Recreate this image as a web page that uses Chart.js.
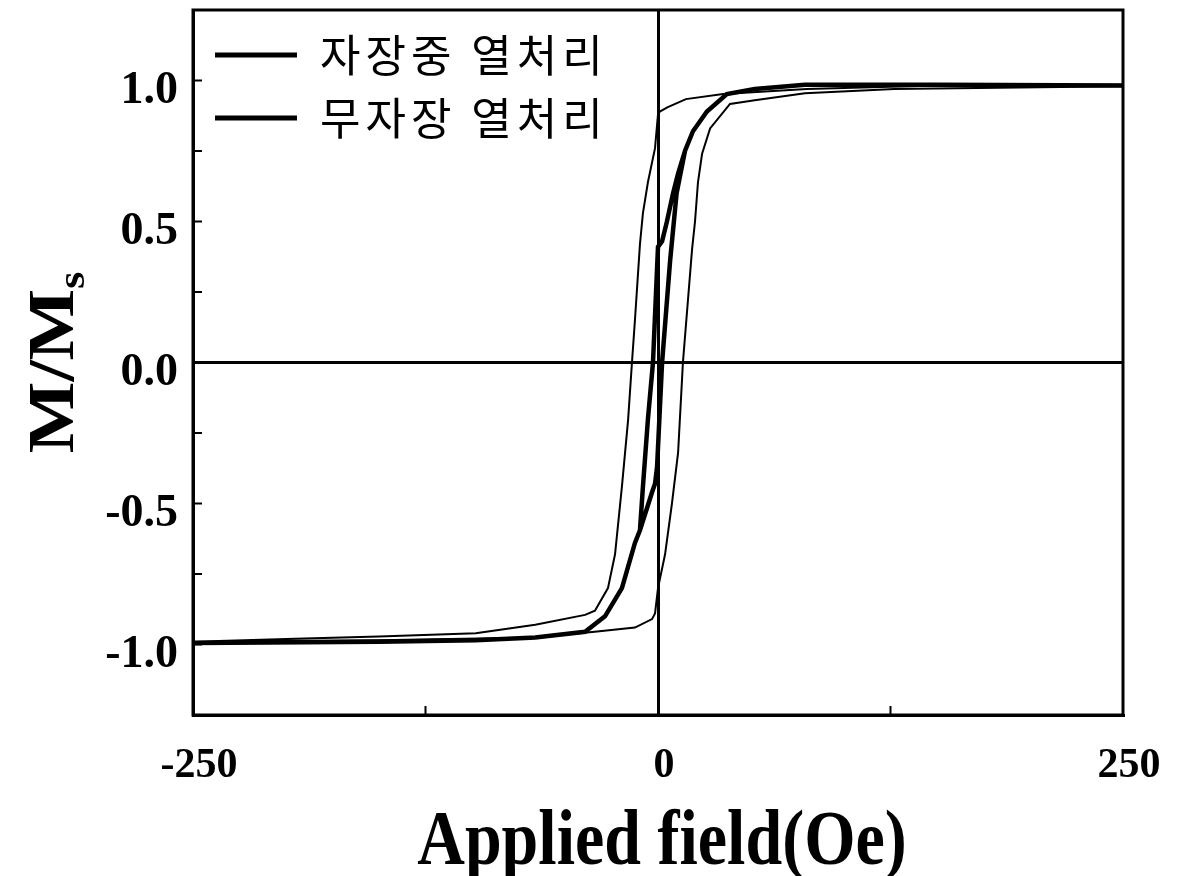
<!DOCTYPE html>
<html>
<head>
<meta charset="utf-8">
<script src="https://cdn.jsdelivr.net/npm/chart.js@4"></script>
<style>
html, body { margin: 0; padding: 0; background: #fff; }
#wrap { width: 1195px; height: 876px; }
</style>
</head>
<body>
<div id="wrap"><canvas id="chart"></canvas></div>
<script>
// legend labels
const seriesNames = ['자장중 열처리', '무자장 열처리'];

// axis ticks
const xTickLabels = [-250, 0, 250];
const yTickLabels = [-1.0, -0.5, 0.0, 0.5, 1.0];
const xMinorTicks = [-125, 0, 125];
const yMinorTicks = [-1, -0.75, -0.5, -0.25, 0, 0.25, 0.5, 0.75, 1];

// field annealed sample (thin, square loop) - descending branch
const fieldDescH = [250, 150, 80, 35, 15, 5, 1, 0, -1.6, -5.4, -8.1, -9.7, -12.4, -14, -16.1, -19.4, -23.1, -26.9, -33.9, -39.2, -66, -98, -150, -195, -250];
const fieldDescM = [0.985, 0.982, 0.97, 0.952, 0.934, 0.905, 0.89, 0.88, 0.76, 0.64, 0.53, 0.42, 0.15, 0, -0.205, -0.44, -0.68, -0.8, -0.88, -0.895, -0.93, -0.96, -0.972, -0.98, -0.99];
// field annealed sample - ascending branch
const fieldAscH = [-250, -150, -66, -34, -12.4, -3.2, -1.6, 0, 3.8, 7.5, 10.8, 13.4, 18.3, 19.9, 21.5, 23.7, 28, 38.7, 52, 79, 127, 250];
const fieldAscM = [-0.99, -0.985, -0.975, -0.955, -0.94, -0.91, -0.89, -0.8, -0.68, -0.5, -0.32, 0, 0.4, 0.5, 0.64, 0.74, 0.83, 0.917, 0.93, 0.955, 0.97, 0.98];

// no-field annealed sample (thick loop) - descending branch
const noFieldDescH = [250, 150, 79, 52, 37, 26.3, 18.8, 14.5, 10.8, 8.1, 4.8, 2.2, 0, -2.7, -5.4, -8.1, -9.7, -12.4, -19.4, -28.5, -39.2, -66, -98, -150, -250];
const noFieldDescM = [0.982, 0.985, 0.985, 0.97, 0.952, 0.89, 0.82, 0.75, 0.67, 0.6, 0.5, 0.43, 0.41, 0, -0.2, -0.44, -0.595, -0.64, -0.8, -0.9, -0.955, -0.975, -0.985, -0.99, -0.995];
// no-field annealed sample - ascending branch
const noFieldAscH = [-250, -150, -98, -66, -39.2, -28.5, -19.4, -12.4, -9.7, -3.2, -1.6, -0.5, 2.2, 6.5, 10, 14.5, 18.8, 26.3, 37, 52, 79, 150, 250];
const noFieldAscM = [-0.995, -0.99, -0.985, -0.975, -0.955, -0.9, -0.8, -0.64, -0.595, -0.46, -0.43, -0.37, 0, 0.36, 0.6, 0.75, 0.82, 0.89, 0.952, 0.97, 0.985, 0.985, 0.982];

const toPoints = (h, m) => h.map((v, i) => ({ x: v, y: m[i] }));

const serif = '"Liberation Serif", "Times New Roman", serif';

// frame, inward ticks, legend and axis titles
const framePlugin = {
    id: 'frame',
    afterDraw(chart) {
        const { ctx, chartArea: a, scales: { x, y } } = chart;
        ctx.save();
        ctx.strokeStyle = '#000';
        ctx.fillStyle = '#000';
        ctx.lineWidth = 3;
        ctx.strokeRect(a.left, a.top, a.right - a.left, a.bottom - a.top);

        ctx.lineWidth = 2;
        ctx.beginPath();
        yMinorTicks.forEach(v => {
            const py = y.getPixelForValue(v);
            ctx.moveTo(a.left, py);
            ctx.lineTo(a.left + 9, py);
        });
        xMinorTicks.forEach(v => {
            const px = x.getPixelForValue(v);
            ctx.moveTo(px, a.bottom);
            ctx.lineTo(px, a.bottom - 9);
        });
        ctx.stroke();

        // legend inside the plot, top-left
        const rows = [a.top + 45, a.top + 108];
        ctx.lineWidth = 5;
        ctx.font = '44px "Noto Sans CJK KR", sans-serif';
        ctx.textBaseline = 'middle';
        ctx.textAlign = 'left';
        if ('letterSpacing' in ctx) ctx.letterSpacing = '5px';
        chart.data.datasets.forEach((ds, i) => {
            ctx.beginPath();
            ctx.moveTo(a.left + 22, rows[i]);
            ctx.lineTo(a.left + 104, rows[i]);
            ctx.stroke();
            ctx.fillText(ds.label, a.left + 127, rows[i]);
        });
        if ('letterSpacing' in ctx) ctx.letterSpacing = '0px';

        // y title M/Ms
        ctx.save();
        ctx.translate(73, (a.top + a.bottom) / 2);
        ctx.rotate(-Math.PI / 2);
        ctx.scale(1.15, 1);
        ctx.textBaseline = 'alphabetic';
        ctx.font = 'bold 66px ' + serif;
        const main = 'M/M';
        const wMain = ctx.measureText(main).width;
        ctx.font = 'bold 38px ' + serif;
        const wSub = ctx.measureText('s').width;
        const start = -(wMain + wSub) / 2;
        ctx.textAlign = 'left';
        ctx.font = 'bold 66px ' + serif;
        ctx.fillText(main, start, 0);
        ctx.font = 'bold 38px ' + serif;
        ctx.fillText('s', start + wMain, 11);
        ctx.restore();

        // x title
        ctx.save();
        ctx.translate((a.left + a.right) / 2 + 4, 864);
        ctx.scale(1, 1.2);
        ctx.textAlign = 'center';
        ctx.textBaseline = 'alphabetic';
        ctx.font = 'bold 66px ' + serif;
        ctx.fillText('Applied field(Oe)', 0, 0);
        ctx.restore();

        ctx.restore();
    }
};

const zeroLine = c => (c.tick && c.tick.value === 0) ? '#000' : 'rgba(0,0,0,0)';

new Chart(document.getElementById('chart'), {
    type: 'scatter',
    data: {
        datasets: [{
            label: seriesNames[0],
            data: toPoints(fieldDescH, fieldDescM).concat(toPoints(fieldAscH, fieldAscM)),
            borderColor: '#000',
            borderWidth: 2,
            showLine: true,
            pointRadius: 0,
            tension: 0,
            fill: false
        }, {
            label: seriesNames[1],
            data: toPoints(noFieldDescH, noFieldDescM).concat(toPoints(noFieldAscH, noFieldAscM)),
            borderColor: '#000',
            borderWidth: 4.5,
            showLine: true,
            pointRadius: 0,
            tension: 0,
            fill: false
        }]
    },
    options: {
        responsive: true,
        maintainAspectRatio: false,
        animation: false,
        layout: { padding: { top: 10, right: 72, left: 0, bottom: 0 } },
        plugins: {
            legend: { display: false },
            tooltip: { enabled: false }
        },
        scales: {
            x: {
                type: 'linear',
                min: -250,
                max: 250,
                afterBuildTicks: s => { s.ticks = xTickLabels.map(v => ({ value: v })); },
                afterFit: s => { s.height = 161; },
                grid: { drawTicks: false, lineWidth: 3, color: zeroLine },
                border: { display: true, color: '#000', width: 3 },
                ticks: {
                    color: '#000',
                    font: { family: serif, size: 42, weight: 'bold' },
                    padding: 26,
                    labelOffset: 6,
                    maxRotation: 0,
                    callback: v => String(v)
                }
            },
            y: {
                type: 'linear',
                min: -1.25,
                max: 1.25,
                afterBuildTicks: s => { s.ticks = yTickLabels.map(v => ({ value: v })); },
                afterFit: s => { s.width = 193; s.paddingTop = 0; s.paddingBottom = 0; },
                grid: { drawTicks: false, lineWidth: 3, color: zeroLine },
                border: { display: true, color: '#000', width: 3 },
                ticks: {
                    color: '#000',
                    font: { family: serif, size: 46, weight: 'bold' },
                    padding: 15,
                    labelOffset: 11,
                    callback: v => v.toFixed(1)
                }
            }
        }
    },
    plugins: [framePlugin]
});
</script>
</body>
</html>
